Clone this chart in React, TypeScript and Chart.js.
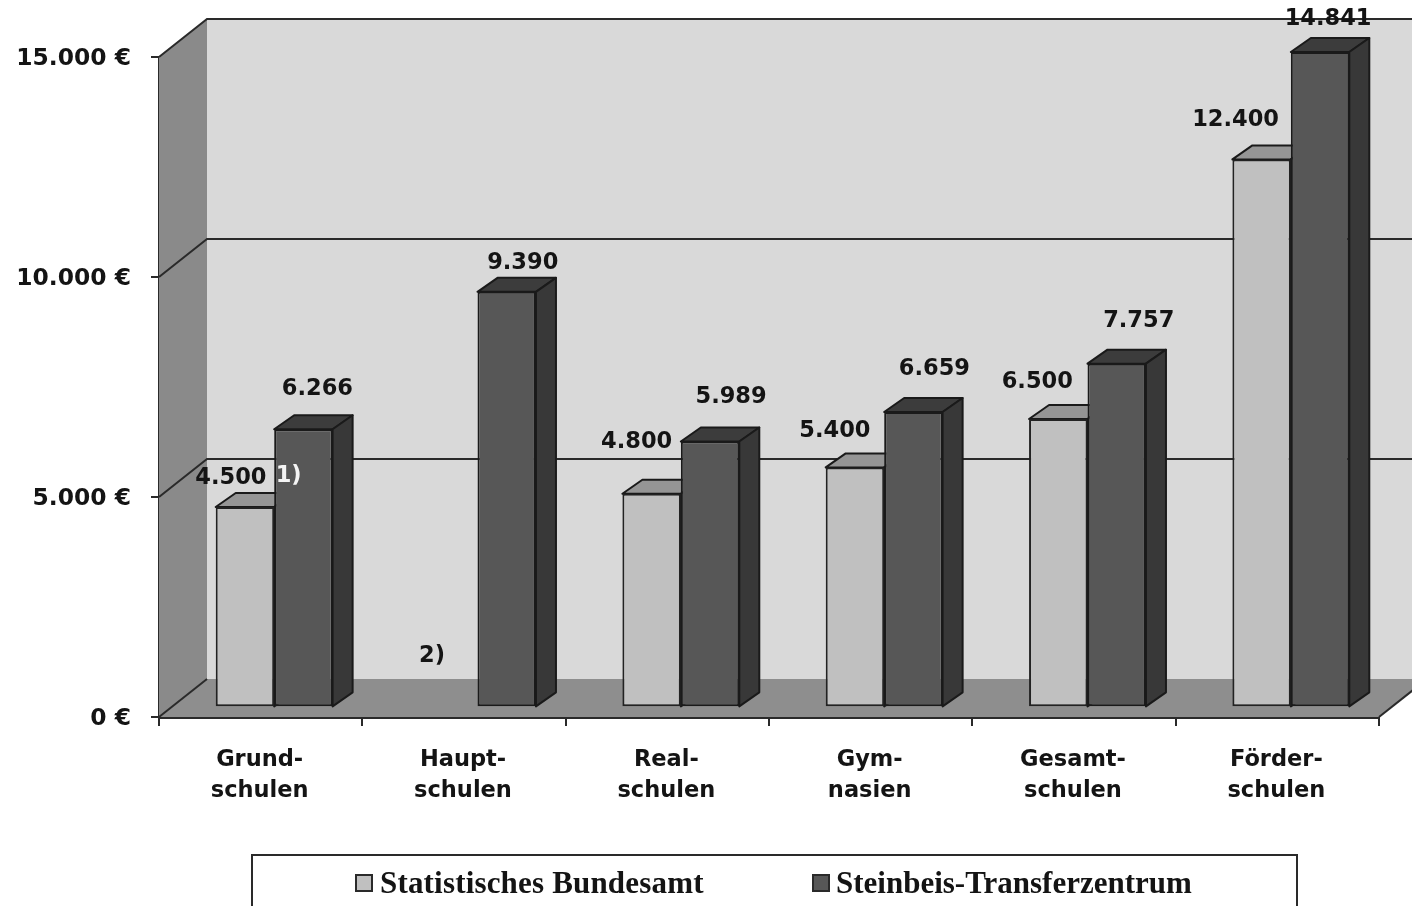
import React, { useEffect, useRef } from "react";
import { Chart, registerables } from "chart.js";

Chart.register(...registerables);

const categories = [
  ["Grund-", "schulen"],
  ["Haupt-", "schulen"],
  ["Real-", "schulen"],
  ["Gym-", "nasien"],
  ["Gesamt-", "schulen"],
  ["Förder-", "schulen"],
];
const statistischesBundesamt = [4500, null, 4800, 5400, 6500, 12400];
const steinbeisTransferzentrum = [6266, 9390, 5989, 6659, 7757, 14841];
const seriesNames = ["Statistisches Bundesamt", "Steinbeis-Transferzentrum"];

// hand-placed label offsets of the original, relative to the top of each bar
const labelOffsetsLight = [[-14, -29], null, [-15, -52], [-20, -36], [-21, -37], [-26, -39]];
const labelOffsetsDark = [[14, -40], [16, -29], [21, -44], [21, -43], [22, -43], [8, -33]];

const FONT = '"DejaVu Sans"';
const INK = "#141414";
const LINE = "#2a2a2a";
const DEPTH_X = 48;
const DEPTH_Y = -38;
const BAR_SHIFT_X = 13.5;
const BAR_SHIFT_Y = -12;
const BAR_DEPTH_X = 20;
const BAR_DEPTH_Y = -14;

const formatValue = (v: number) => String(v).replace(/\B(?=(\d{3})+$)/g, ".");

function poly(ctx: CanvasRenderingContext2D, pts: number[][], fill: string | null, stroke: string | null, lw = 2) {
  ctx.beginPath();
  pts.forEach(([x, y], i) => (i ? ctx.lineTo(x, y) : ctx.moveTo(x, y)));
  ctx.closePath();
  if (fill) {
    ctx.fillStyle = fill;
    ctx.fill();
  }
  if (stroke) {
    ctx.strokeStyle = stroke;
    ctx.lineWidth = lw;
    ctx.lineJoin = "round";
    ctx.stroke();
  }
}

const stagePlugin = {
  id: "stage",
  beforeDatasetsDraw(chart: any) {
    const { ctx, chartArea: a, scales } = chart;
    const y = scales.y;
    const W = chart.width;
    ctx.save();
    // back wall, left wall, floor
    ctx.fillStyle = "#d9d9d9";
    ctx.fillRect(a.left + DEPTH_X, a.top + DEPTH_Y, W - a.left - DEPTH_X, a.bottom - a.top);
    poly(ctx, [[a.left, a.bottom], [a.left, a.top], [a.left + DEPTH_X, a.top + DEPTH_Y], [a.left + DEPTH_X, a.bottom + DEPTH_Y]], "#8a8a8a", null);
    poly(ctx, [[a.left, a.bottom], [a.left + DEPTH_X, a.bottom + DEPTH_Y], [a.right + DEPTH_X, a.bottom + DEPTH_Y], [a.right, a.bottom]], "#8e8e8e", null);
    // gridlines running along the wall
    ctx.strokeStyle = LINE;
    ctx.lineWidth = 2;
    y.ticks.forEach((t: any) => {
      const py = y.getPixelForValue(t.value);
      ctx.beginPath();
      ctx.moveTo(a.left, py);
      ctx.lineTo(a.left + DEPTH_X, py + DEPTH_Y);
      if (t.value > 0) ctx.lineTo(W, py + DEPTH_Y);
      ctx.stroke();
    });
    ctx.beginPath();
    ctx.moveTo(a.right, a.bottom);
    ctx.lineTo(a.right + DEPTH_X, a.bottom + DEPTH_Y);
    ctx.stroke();

    // bar sides and tops, then the library draws the fronts over them
    ctx.translate(BAR_SHIFT_X, BAR_SHIFT_Y);
    const faces = [
      { top: "#959595", side: "#7c7c7c" },
      { top: "#3c3c3c", side: "#383838" },
    ];
    chart.data.datasets.forEach((ds: any, di: number) => {
      chart.getDatasetMeta(di).data.forEach((bar: any, i: number) => {
        if (ds.data[i] == null) return;
        const l = bar.x - bar.width / 2;
        const r = bar.x + bar.width / 2;
        poly(ctx, [[l, bar.y], [l + BAR_DEPTH_X, bar.y + BAR_DEPTH_Y], [r + BAR_DEPTH_X, bar.y + BAR_DEPTH_Y], [r, bar.y]], faces[di].top, "#1a1a1a");
        poly(ctx, [[r, bar.y], [r + BAR_DEPTH_X, bar.y + BAR_DEPTH_Y], [r + BAR_DEPTH_X, bar.base + BAR_DEPTH_Y], [r, bar.base]], faces[di].side, "#1a1a1a");
      });
    });
    ctx.restore();
    ctx.save();
    ctx.translate(BAR_SHIFT_X, BAR_SHIFT_Y);
  },
  afterDatasetsDraw(chart: any) {
    const { ctx, scales } = chart;
    ctx.restore();
    const { x, y } = scales;
    ctx.save();
    ctx.textAlign = "center";
    ctx.textBaseline = "middle";
    ctx.font = `bold 22.5px ${FONT}`;
    ctx.fillStyle = INK;
    const offsets = [labelOffsetsLight, labelOffsetsDark];
    chart.data.datasets.forEach((ds: any, di: number) => {
      chart.getDatasetMeta(di).data.forEach((bar: any, i: number) => {
        const v = ds.data[i];
        const off = offsets[di][i];
        if (v == null || !off) return;
        ctx.fillText(formatValue(v), bar.x + BAR_SHIFT_X + off[0], bar.y + BAR_SHIFT_Y + off[1]);
      });
    });
    // footnote markers
    ctx.fillText("2)", x.getPixelForValue(1) - 32, y.getPixelForValue(0) - 61);
    ctx.fillStyle = "#f4f4f4";
    ctx.fillText("1)", x.getPixelForValue(0) + 28, y.getPixelForValue(5000) - 21);

    // legend
    const W_TOP = 855;
    ctx.strokeStyle = LINE;
    ctx.lineWidth = 2;
    ctx.beginPath();
    ctx.moveTo(252, chart.height + 2);
    ctx.lineTo(252, W_TOP);
    ctx.lineTo(1297, W_TOP);
    ctx.lineTo(1297, chart.height + 2);
    ctx.stroke();
    const swatchX = [356, 813];
    const textX = [380, 836];
    const spacing = ["0.18px", "0px"];
    ctx.textAlign = "left";
    ctx.textBaseline = "alphabetic";
    ctx.font = 'bold 31px "Liberation Serif"';
    seriesNames.forEach((name, i) => {
      ctx.fillStyle = chart.data.datasets[i].backgroundColor;
      ctx.strokeStyle = LINE;
      ctx.fillRect(swatchX[i], 875, 16, 16);
      ctx.strokeRect(swatchX[i], 875, 16, 16);
      ctx.fillStyle = INK;
      (ctx as any).letterSpacing = spacing[i];
      ctx.fillText(name, textX[i], 893);
    });
    ctx.restore();
  },
};

export default function App() {
  const ref = useRef<HTMLCanvasElement | null>(null);
  useEffect(() => {
    const chart = new Chart(ref.current as HTMLCanvasElement, {
      type: "bar",
      data: {
        labels: categories as any,
        datasets: [
          { label: seriesNames[0], data: statistischesBundesamt, backgroundColor: "#c0c0c0", borderColor: "#222", borderWidth: 2, borderSkipped: false, clip: false, base: -30, categoryPercentage: 0.575, barPercentage: 1 } as any,
          { label: seriesNames[1], data: steinbeisTransferzentrum, backgroundColor: "#575757", borderColor: "#1a1a1a", borderWidth: 2, borderSkipped: false, clip: false, base: -30, categoryPercentage: 0.575, barPercentage: 1 } as any,
        ],
      },
      options: {
        animation: false,
        responsive: false,
        layout: { padding: { top: 57, right: 33, left: 0, bottom: 0 } },
        plugins: { legend: { display: false }, tooltip: { enabled: false } },
        scales: {
          x: {
            afterFit: (s: any) => { s.height = 189; },
            grid: { drawOnChartArea: false, tickLength: 9, color: LINE, lineWidth: 2 },
            border: { display: true, color: LINE, width: 3 },
            ticks: { color: INK, font: { family: FONT, weight: "bold", size: 22.5, lineHeight: 1.38 }, padding: 19, labelOffset: -1, maxRotation: 0, autoSkip: false },
          } as any,
          y: {
            min: 0,
            max: 15000,
            afterFit: (s: any) => { s.width = 159; },
            grid: { drawOnChartArea: false, tickLength: 8, color: LINE, lineWidth: 2 },
            border: { display: true, color: LINE, width: 2 },
            ticks: {
              stepSize: 5000,
              color: INK,
              padding: 20,
              labelOffset: 2,
              font: { family: FONT, weight: "bold", size: 23.4 },
              callback: (v: any) => `${formatValue(Number(v))} €`,
            },
          } as any,
        },
      } as any,
      plugins: [stagePlugin],
    });
    return () => chart.destroy();
  }, []);
  return <canvas ref={ref} width={1412} height={906} style={{ position: "absolute", left: 0, top: 0, display: "block" }} />;
}
